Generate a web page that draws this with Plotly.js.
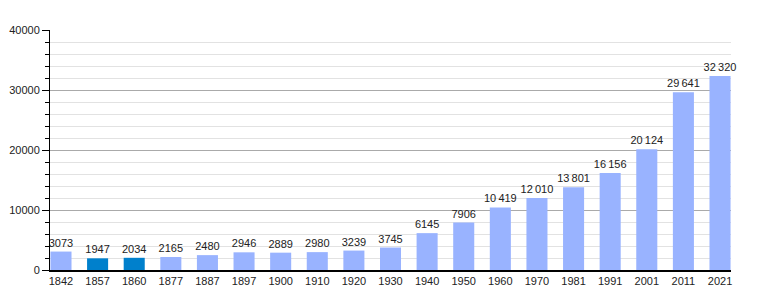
<!DOCTYPE html>
<html>
<head>
<meta charset="utf-8">
<script src="https://cdn.plot.ly/plotly-3.0.1.min.js"></script>
<style>html,body{margin:0;padding:0;background:#fff;}#chart{width:760px;height:300px;}</style>
</head>
<body>
<div id="chart"></div>
<script>
const years = ["1842","1857","1860","1877","1887","1897","1900","1910","1920","1930","1940","1950","1960","1970","1981","1991","2001","2011","2021"];
const population = [3073,1947,2034,2165,2480,2946,2889,2980,3239,3745,6145,7906,10419,12010,13801,16156,20124,29641,32320];
const highlighted = ["1857","1860"];
const yTicks = [0,10000,20000,30000,40000];

const lightColor = '#99b3ff';
const darkColor = '#0080cc';

function fmt(v){
  const s = String(v);
  if (s.length <= 4) return s;
  return s.replace(/\B(?=(\d{3})+(?!\d))/g, '\u2009');
}
const labels = population.map(fmt);
const colors = years.map(y => highlighted.includes(y) ? darkColor : lightColor);

const trace = {
  type: 'bar',
  x: years,
  y: population,
  text: labels,
  textposition: 'outside',
  constraintext: 'none',
  textfont: {family: 'Liberation Sans, Arial, sans-serif', size: 11, color: '#222'},
  cliponaxis: false,
  marker: {color: colors, line: {width: 0}},
  width: 0.575,
  hoverinfo: 'x+y'
};

const layout = {
  width: 760, height: 300,
  margin: {l: 50, r: 29, t: 30, b: 30},
  paper_bgcolor: '#fff', plot_bgcolor: '#fff',
  showlegend: false,
  font: {family: 'Liberation Sans, Arial, sans-serif', size: 11, color: '#222'},
  xaxis: {
    type: 'category',
    range: [-0.3, 18.3],
    showline: true, linecolor: '#000', linewidth: 1.5,
    ticks: '', ticklen: 0, showgrid: false, zeroline: false,
    tickfont: {size: 11, color: '#222'},
    fixedrange: true
  },
  yaxis: {
    range: [0, 40000],
    tickvals: yTicks,
    ticktext: yTicks.map(String),
    showline: true, linecolor: '#000', linewidth: 1,
    ticks: 'outside', ticklen: 7, tickcolor: '#000', tickwidth: 1,
    showgrid: true, gridcolor: '#aaaaaa', gridwidth: 1,
    zeroline: false,
    minor: {dtick: 2000, showgrid: true, gridcolor: '#e2e2e2', gridwidth: 1, ticks: 'outside', ticklen: 4, tickcolor: '#000'},
    tickfont: {size: 11, color: '#222'},
    fixedrange: true
  }
};

Plotly.newPlot('chart', [trace], layout, {displayModeBar: false, staticPlot: true});
</script>
</body>
</html>
